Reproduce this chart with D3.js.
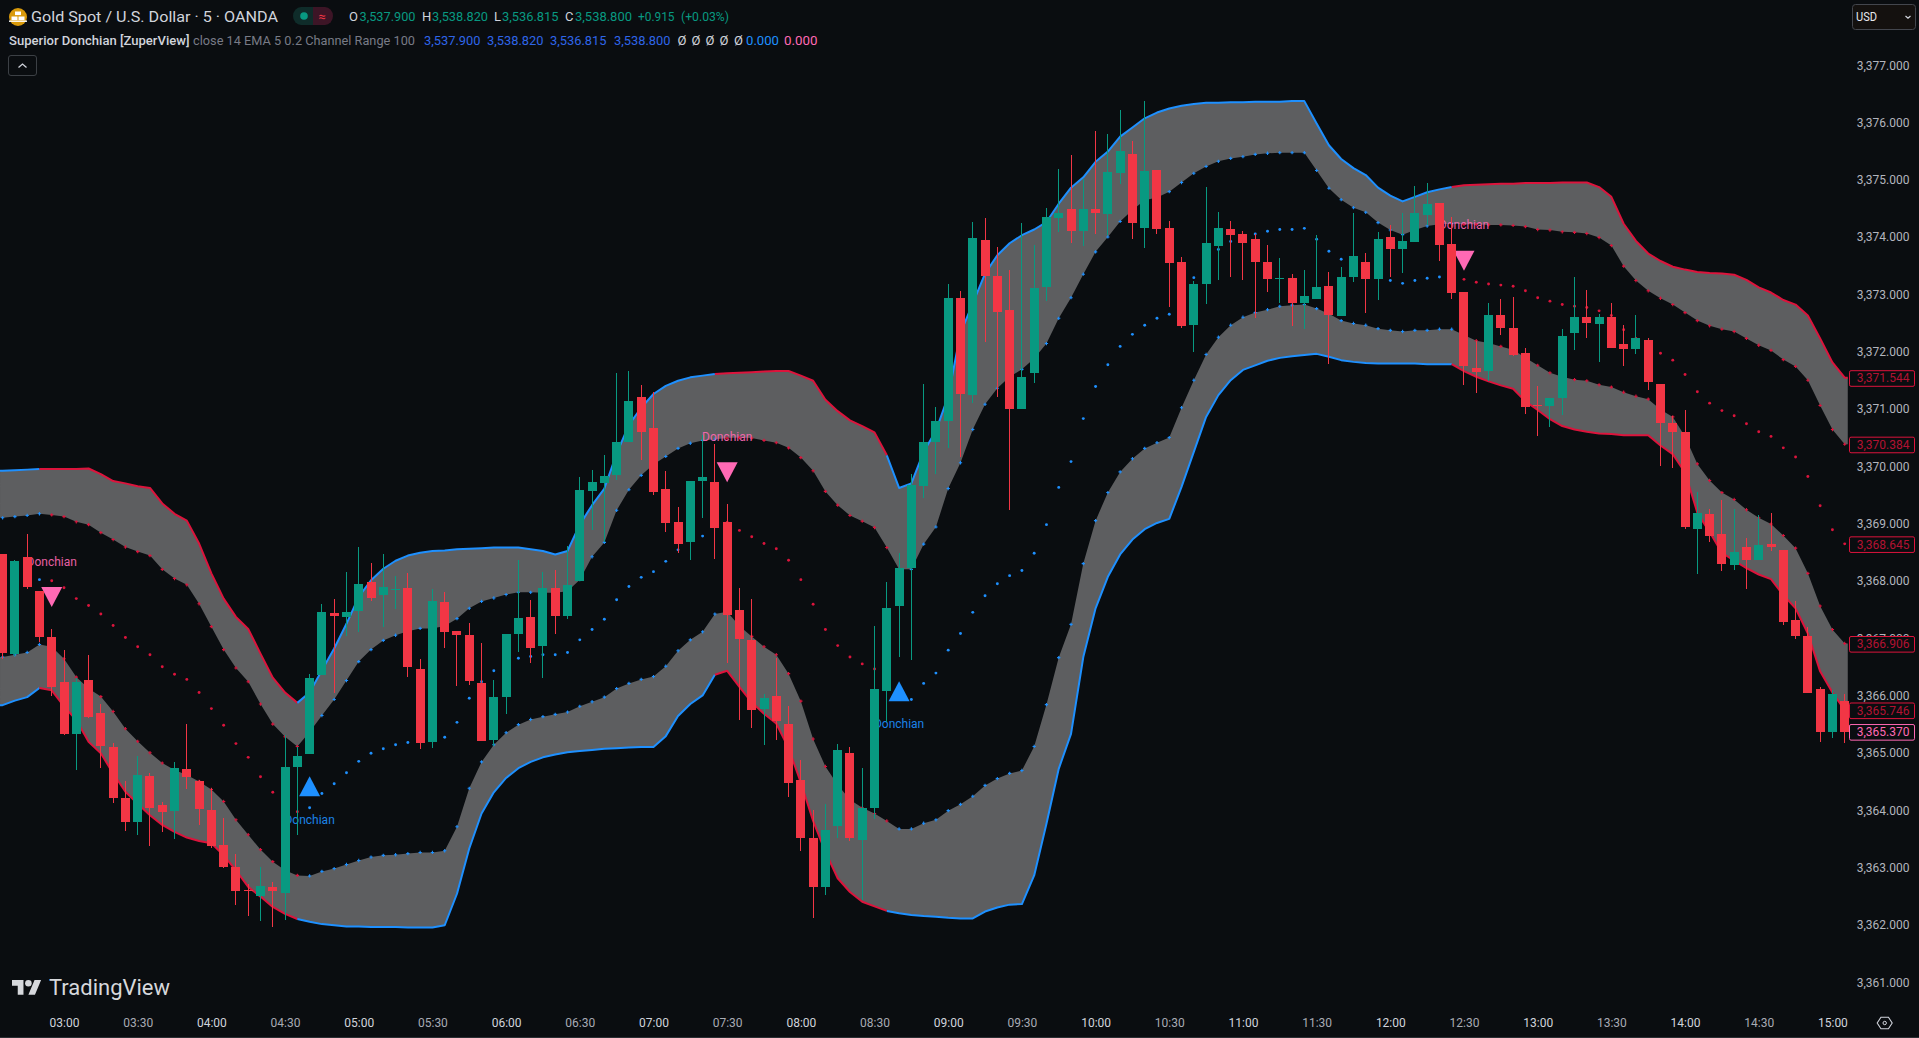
<!DOCTYPE html>
<html><head><meta charset="utf-8">
<style>html,body{margin:0;padding:0;background:#0a0d10;overflow:hidden}svg{display:block}text{font-family:Roboto,sans-serif}</style>
<script src="https://cdn.jsdelivr.net/npm/d3@7/dist/d3.min.js"></script>
</head><body><svg id="c" width="1919" height="1038"></svg>
<script>
// All prices are stored as price minus 3300.
const priceBase=3300;
const open=[68.46,66.73,68.41,67.82,67.02,66.23,65.33,66.27,65.69,65.10,
64.21,63.79,64.60,64.08,63.98,64.71,64.50,64.00,63.39,63.00,
62.60,62.50,62.65,62.55,64.75,64.98,66.35,67.44,67.37,67.47,
67.98,67.75,67.84,67.87,66.47,65.19,67.63,67.12,67.05,66.21,
65.22,65.97,67.07,67.36,66.87,67.87,67.39,68.00,69.57,69.70,
69.85,70.43,71.20,70.66,69.60,69.02,68.68,69.74,69.72,69.02,
67.49,66.96,65.76,65.99,65.50,64.52,63.52,62.66,63.72,65.00,
63.47,64.04,66.08,67.56,68.22,69.66,70.42,70.79,72.93,71.24,
73.94,73.32,72.72,71.00,71.62,73.12,74.33,74.49,74.10,74.49,
74.40,75.11,75.45,74.15,75.17,74.15,73.56,72.46,73.18,73.84,
74.14,74.05,73.96,73.56,73.26,73.28,72.85,72.91,73.14,72.62,
73.30,73.56,73.26,74.00,73.79,73.91,74.38,74.59,73.88,73.04,
71.71,71.66,72.63,72.41,71.97,71.07,71.05,71.19,72.32,72.60,
72.48,72.60,72.13,72.04,72.21,71.44,70.75,70.59,68.91,69.16,
68.81,68.27,68.59,68.37,68.65,68.53,67.31,67.03,66.12,65.36,65.91];
const high=[68.46,68.36,68.81,67.82,67.16,66.79,66.30,66.70,65.85,65.17,
64.50,64.94,64.64,64.14,64.83,65.50,64.52,64.38,63.86,63.24,
62.71,63.00,62.74,65.31,65.10,66.37,67.59,67.68,68.15,68.59,
68.31,68.46,68.08,68.13,66.63,67.85,67.80,67.12,67.26,66.92,
66.27,67.07,68.36,67.66,68.15,68.18,68.60,69.82,69.93,70.19,
71.62,71.66,71.41,71.30,69.91,69.29,69.74,70.55,70.38,69.34,
67.87,67.68,66.03,66.65,65.81,64.87,64.00,64.10,65.16,65.10,
64.74,67.21,67.98,68.49,69.87,71.43,71.03,73.18,73.05,74.26,
74.33,73.82,73.42,74.24,73.86,74.50,75.18,75.43,75.01,75.85,
75.79,76.21,75.67,76.37,75.17,74.28,73.65,73.23,74.87,74.43,
74.28,74.10,74.05,73.86,73.63,73.35,73.42,74.03,73.39,73.47,
74.42,73.72,74.08,74.21,74.42,74.89,74.94,74.59,74.34,73.04,
72.19,72.84,72.92,72.95,72.06,71.40,71.19,72.39,73.30,73.07,
72.66,72.84,72.46,72.63,72.24,71.44,70.87,70.98,69.55,69.25,
69.41,69.25,68.74,69.14,69.18,68.53,67.64,67.20,66.15,66.10,66.02];
const low=[66.63,66.68,67.85,66.93,65.99,65.31,64.70,65.61,64.73,64.13,
63.64,63.56,63.37,63.62,63.50,64.37,63.74,63.34,62.99,62.34,
62.15,62.06,61.96,62.08,63.56,64.98,66.35,66.04,67.04,67.11,
67.64,67.20,67.51,66.32,65.07,65.08,66.83,66.16,66.18,65.20,
65.12,65.68,66.75,66.56,66.30,67.08,67.33,68.00,68.89,68.68,
69.76,70.43,70.11,69.50,68.85,68.48,68.36,69.09,68.38,66.57,
65.57,65.44,65.14,65.22,64.23,63.29,62.12,62.52,63.52,63.46,
62.43,63.84,65.53,66.67,66.62,69.45,69.87,70.32,70.16,71.11,
72.17,71.21,69.23,71.00,71.45,72.88,74.08,73.89,73.84,74.05,
74.03,74.92,73.96,73.80,74.05,72.78,72.41,71.99,72.83,73.25,
73.30,73.25,72.58,73.04,72.85,72.44,72.39,72.91,71.78,72.62,
73.21,72.67,72.90,73.30,73.37,73.91,74.21,73.58,72.92,71.41,
71.28,71.48,72.29,71.93,70.91,70.53,70.68,70.89,72.03,72.24,
71.82,72.06,71.75,71.95,71.33,70.00,69.96,68.91,68.12,68.68,
68.17,68.19,67.86,68.37,68.52,67.23,66.98,66.04,65.19,65.26,65.17];
const close=[66.74,68.34,67.89,67.02,66.15,65.33,66.24,65.62,65.12,64.21,
63.79,64.61,64.04,63.97,64.73,64.57,64.02,63.37,63.01,62.59,
62.59,62.67,62.59,64.76,64.94,66.30,67.45,67.39,67.45,67.94,
67.70,67.89,67.85,66.50,65.17,67.64,67.11,67.06,66.25,65.20,
65.97,67.07,67.35,66.83,67.87,67.39,67.92,69.58,69.72,69.83,
70.43,71.14,70.60,69.55,69.01,68.64,69.74,69.81,68.93,67.40,
66.99,65.75,65.95,65.55,64.48,63.51,62.66,63.66,65.04,63.51,
64.03,66.11,67.52,68.22,69.67,70.42,70.78,72.94,71.26,73.98,
73.32,72.69,71.00,71.55,73.11,74.35,74.42,74.10,74.49,74.42,
75.13,75.50,74.24,75.15,74.14,73.54,72.44,73.18,73.89,74.15,
74.03,73.89,73.56,73.26,73.28,72.85,72.97,73.12,72.64,73.30,
73.67,73.26,73.96,73.79,73.93,74.42,74.57,73.86,73.03,71.75,
71.65,72.63,72.41,71.94,71.03,71.05,71.19,72.27,72.60,72.49,
72.60,72.07,72.04,72.23,71.47,70.76,70.59,68.94,69.18,68.79,
68.29,68.51,68.37,68.62,68.59,67.28,67.03,66.04,65.36,66.02,65.37];
const channelTop=[69.92,69.93,69.94,69.95,69.95,69.95,69.95,69.96,69.86,69.74,
69.70,69.65,69.62,69.35,69.17,69.05,68.65,68.13,67.69,67.37,
67.16,66.73,66.31,66.05,65.87,66.05,66.44,66.82,67.25,67.72,
68.01,68.21,68.35,68.44,68.49,68.52,68.53,68.55,68.56,68.57,
68.58,68.58,68.58,68.55,68.52,68.46,68.52,68.98,69.32,69.61,
70.22,70.72,71.02,71.26,71.40,71.49,71.55,71.58,71.61,71.62,
71.63,71.64,71.65,71.66,71.66,71.58,71.49,71.16,70.96,70.80,
70.70,70.59,70.19,69.62,69.70,70.25,70.62,71.22,72.32,72.84,
73.36,73.68,73.89,74.03,74.13,74.26,74.58,74.86,75.04,75.31,
75.49,75.75,75.91,76.07,76.17,76.24,76.29,76.32,76.34,76.34,
76.35,76.35,76.36,76.36,76.36,76.37,76.37,75.98,75.60,75.36,
75.20,75.08,74.86,74.72,74.62,74.70,74.78,74.83,74.87,74.90,
74.91,74.92,74.93,74.93,74.94,74.94,74.94,74.95,74.95,74.95,
74.87,74.70,74.23,73.93,73.71,73.58,73.48,73.43,73.39,73.37,
73.36,73.34,73.25,73.12,73.03,72.90,72.82,72.63,72.23,71.81,71.544];
const channelBottom=[65.83,65.91,65.97,66.13,66.09,65.81,65.57,65.19,64.99,64.64,
64.32,64.11,63.91,63.74,63.62,63.52,63.46,63.42,63.21,62.95,
62.66,62.49,62.31,62.19,62.10,62.05,62.01,61.99,61.97,61.97,
61.96,61.96,61.96,61.95,61.95,61.95,61.99,62.54,63.33,63.94,
64.31,64.56,64.73,64.84,64.92,64.97,65.01,65.03,65.05,65.07,
65.08,65.09,65.10,65.10,65.29,65.64,65.85,66.00,66.36,66.43,
66.15,65.88,65.68,65.51,65.08,64.48,63.81,63.27,62.81,62.57,
62.40,62.32,62.24,62.20,62.17,62.15,62.14,62.12,62.11,62.11,
62.23,62.30,62.35,62.36,62.86,63.76,64.72,65.33,66.67,67.52,
68.07,68.46,68.72,68.90,69.01,69.08,69.64,70.25,70.86,71.24,
71.50,71.68,71.76,71.84,71.89,71.92,71.94,71.96,71.91,71.85,
71.82,71.80,71.79,71.79,71.79,71.79,71.78,71.78,71.78,71.66,
71.56,71.48,71.41,71.35,71.13,70.98,70.82,70.70,70.64,70.60,
70.57,70.56,70.54,70.54,70.54,70.36,70.21,69.89,69.19,68.85,
68.49,68.35,68.22,68.11,68.03,67.75,67.52,67.08,66.42,66.05,65.746];
const innerTop=[69.10,69.12,69.14,69.17,69.15,69.12,69.03,68.98,68.84,68.72,
68.59,68.51,68.44,68.20,68.04,67.93,67.60,67.20,66.80,66.48,
66.24,65.85,65.50,65.28,65.11,65.36,65.65,65.93,66.26,66.59,
66.80,66.96,67.05,67.12,67.17,67.17,67.21,67.34,67.52,67.64,
67.70,67.76,67.80,67.80,67.79,67.79,67.82,68.02,68.42,68.67,
69.23,69.59,69.84,70.03,70.17,70.31,70.40,70.45,70.47,70.49,
70.50,70.49,70.45,70.41,70.32,70.15,69.92,69.56,69.32,69.14,
69.04,68.93,68.58,68.20,68.20,68.64,68.94,69.61,70.06,70.64,
71.08,71.36,71.56,71.69,71.88,72.14,72.58,72.94,73.35,73.74,
74.00,74.27,74.47,74.64,74.69,74.79,74.95,75.11,75.23,75.32,
75.37,75.40,75.44,75.46,75.47,75.47,75.47,75.16,74.85,74.65,
74.51,74.43,74.25,74.12,74.04,74.12,74.19,74.22,74.23,74.22,
74.22,74.21,74.21,74.20,74.18,74.13,74.12,74.09,74.08,74.06,
73.99,73.85,73.49,73.24,73.06,72.93,72.82,72.68,72.54,72.45,
72.39,72.35,72.23,72.11,72.02,71.86,71.74,71.50,71.06,70.64,70.384];
const innerBottom=[66.67,66.71,66.75,66.89,66.85,66.64,66.32,66.12,65.98,65.72,
65.42,65.20,65.00,64.82,64.70,64.61,64.50,64.36,64.15,63.83,
63.57,63.31,63.10,62.95,62.86,62.85,62.93,62.98,63.05,63.12,
63.18,63.21,63.22,63.24,63.26,63.26,63.29,63.71,64.38,64.84,
65.14,65.35,65.49,65.58,65.63,65.67,65.71,65.81,65.89,65.97,
66.12,66.21,66.28,66.33,66.51,66.78,66.97,67.11,67.42,67.46,
67.21,67.03,66.85,66.71,66.38,65.90,65.24,64.76,64.44,64.18,
64.04,63.94,63.81,63.67,63.67,63.77,63.83,63.99,64.10,64.24,
64.43,64.55,64.64,64.69,65.11,65.84,66.66,67.24,68.30,69.05,
69.54,69.90,70.13,70.31,70.41,70.50,71.02,71.50,71.95,72.25,
72.46,72.60,72.68,72.73,72.79,72.81,72.82,72.75,72.66,72.54,
72.49,72.46,72.40,72.37,72.35,72.37,72.37,72.39,72.39,72.29,
72.19,72.15,72.09,72.03,71.89,71.76,71.63,71.56,71.51,71.49,
71.42,71.38,71.29,71.22,71.17,70.99,70.86,70.52,70.04,69.75,
69.54,69.42,69.24,69.10,68.99,68.79,68.57,68.13,67.56,67.15,66.906];
const midline=[67.88,67.92,67.95,68.02,68.00,67.88,67.69,67.57,67.42,67.22,
67.01,66.85,66.71,66.50,66.37,66.28,66.05,65.77,65.48,65.16,
64.92,64.58,64.31,64.12,63.97,64.04,64.29,64.46,64.65,64.85,
64.99,65.07,65.14,65.18,65.22,65.24,65.27,65.53,65.95,66.24,
66.43,66.57,66.65,66.68,66.71,66.71,66.75,66.97,67.15,67.33,
67.67,67.90,68.06,68.16,68.34,68.54,68.70,68.78,68.99,69.02,
68.88,68.77,68.65,68.56,68.36,68.02,67.59,67.15,66.87,66.67,
66.55,66.46,66.21,65.93,65.93,66.21,66.39,66.79,67.08,67.45,
67.74,67.95,68.09,68.18,68.48,68.98,69.63,70.08,70.83,71.39,
71.77,72.09,72.30,72.46,72.58,72.65,72.98,73.29,73.60,73.78,
73.92,74.00,74.05,74.10,74.13,74.13,74.15,73.96,73.75,73.61,
73.51,73.44,73.33,73.24,73.19,73.24,73.28,73.30,73.32,73.26,
73.21,73.18,73.16,73.14,73.06,72.94,72.88,72.82,72.79,72.77,
72.71,72.63,72.38,72.23,72.12,71.97,71.85,71.60,71.30,71.10,
70.97,70.88,70.74,70.60,70.52,70.32,70.16,69.82,69.31,68.89,68.645];
const bearRuns=[[4,24],[59,72],[119,150]];
const signalBar=[4,25,59,73,119];
const signalKind=["down","up","down","up","down"];
const signalPrice=[67.89,64.24,70.07,65.90,73.76];
const signalTextPrice=[68.32,63.82,70.51,65.50,74.20];
const priceTicks=[3361,3362,3363,3364,3365,3366,3367,3368,3369,3370,3371,3372,3373,3374,3375,3376,3377];
const timeTickBars=[5,11,17,23,29,35,41,47,53,59,65,71,77,83,89,95,101,107,113,119,125,131,137,143,149];
const timeTickLabels=["03:00","03:30","04:00","04:30","05:00","05:30","06:00","06:30","07:00","07:30","08:00","08:30","09:00","09:30","10:00","10:30","11:00","11:30","12:00","12:30","13:00","13:30","14:00","14:30","15:00"];
const lastLabels=[["3,371.544",71.544,"crimson"],["3,370.384",70.384,"crimson"],["3,368.645",68.645,"crimson"],["3,366.906",66.906,"crimson"],["3,365.746",65.746,"crimson"],["3,365.370",65.37,"hotpink"]];

const BG="#0a0d10",UP="#089981",DOWN="#f23645",BLUE="dodgerblue",RED="crimson",PINK="hotpink",FILL="#5d5e60";
const svg=d3.select("#c");
svg.append("rect").attr("width",1919).attr("height",1038).attr("fill",BG);
const x=d3.scaleLinear().domain([0,150]).range([2.6,1844.7]);
const y=d3.scaleLinear().domain([3361,3377]).range([982,65]);
const py=v=>y(priceBase+v);
const clampI=i=>Math.max(0,Math.min(150,Math.round(i)));
const plotIdx=[-0.21].concat(d3.range(151),[150.25]);
const isBear=i=>bearRuns.some(r=>i>=r[0]&&i<=r[1]);
const g=svg.append("g");

// channel fills
[[channelTop,innerTop],[innerBottom,channelBottom]].forEach(([a,b])=>{
  g.append("path").attr("fill",FILL).attr("d",d3.area().x(i=>x(i)).y0(i=>py(a[clampI(i)])).y1(i=>py(b[clampI(i)]))(plotIdx));
});
// outer lines, coloured by trend
[channelTop,channelBottom].forEach(a=>{
  const line=d3.line().x(i=>x(i)).y(i=>py(a[clampI(i)]));
  let runs=[],cur=[plotIdx[0],0],st=isBear(1);
  for(let i=1;i<=150;i++){
    if(isBear(i)!==st){runs.push([cur,st]);cur=[i-1];st=isBear(i);}
    cur.push(i);
  }
  cur.push(150.25);runs.push([cur,st]);
  runs.forEach(([pts,b])=>g.append("path").attr("fill","none").attr("stroke",b?RED:BLUE).attr("stroke-width",2).attr("stroke-linejoin","round").attr("d",line(pts)));
});
// inner crosses and midline dots
const cross=d3.symbol().type(d3.symbolCross).size(6)();
[innerTop,innerBottom].forEach(a=>{
  g.selectAll(null).data(d3.range(151)).join("path").attr("d",cross)
   .attr("transform",i=>`translate(${x(i)},${py(a[i])})`).attr("fill",i=>isBear(i)?RED:BLUE);
});
g.selectAll(null).data(d3.range(151)).join("circle").attr("cx",i=>x(i)).attr("cy",i=>py(midline[i])).attr("r",1.45)
 .attr("fill",i=>isBear(i)?RED:BLUE);

// signals
signalBar.forEach((b,k)=>{
  const dn=signalKind[k]==="down",c=dn?PINK:BLUE,cx=x(b),cy=py(signalPrice[k]);
  g.append("path").attr("fill",c).attr("d",d3.line()(dn?[[cx-10.5,cy],[cx+10.5,cy],[cx,cy+20]]:[[cx-10.5,cy],[cx+10.5,cy],[cx,cy-20]])+"Z");
  g.append("text").attr("x",cx).attr("y",py(signalTextPrice[k])).attr("text-anchor","middle").attr("dominant-baseline","central")
   .attr("font-size",12).attr("fill",c).attr("opacity",.9).text("Donchian");
});

// candles
const cg=svg.append("g").attr("shape-rendering","crispEdges");
const bars=d3.range(151);
const col=i=>close[i]>=open[i]?UP:DOWN;
cg.selectAll(null).data(bars).join("rect").attr("x",i=>Math.round(x(i)-0.5)).attr("width",1)
  .attr("y",i=>py(high[i])).attr("height",i=>py(low[i])-py(high[i])).attr("fill",col);
cg.selectAll(null).data(bars).join("rect").attr("x",i=>Math.round(x(i)-4.5)).attr("width",9)
  .attr("y",i=>py(Math.max(open[i],close[i]))).attr("height",i=>Math.max(1,Math.abs(py(open[i])-py(close[i])))).attr("fill",col);

// price axis
const ax=svg.append("g").attr("transform","translate(1848,0)").call(d3.axisRight(y).tickValues(priceTicks).tickSize(0).tickFormat(d3.format(",.3f")));
ax.select(".domain").remove();
ax.selectAll("text").attr("x",61.5).attr("text-anchor","end").attr("dy",null).attr("dominant-baseline","central").attr("fill","#b2b5be").attr("font-size",12).attr("font-family","Roboto");
// last value boxes
lastLabels.forEach(([t,v,c])=>{
  const yy=py(v)+0.8;
  svg.append("rect").attr("x",1849.5).attr("y",yy-7.8).attr("width",65).attr("height",15.6).attr("rx",1.5).attr("fill",BG).attr("stroke",c).attr("stroke-width",1);
  svg.append("text").attr("x",1909.5).attr("y",yy).attr("text-anchor","end").attr("dominant-baseline","central").attr("font-size",12).attr("fill",c).attr("opacity",c===PINK?1:.8).text(t);
});
// time axis
const tAx=svg.append("g").attr("transform","translate(0,1022.5)").call(d3.axisBottom(x).tickValues(timeTickBars).tickSize(0).tickFormat((d,i)=>timeTickLabels[i]));
tAx.select(".domain").remove();
tAx.selectAll("text").attr("y",0).attr("dy",null).attr("dominant-baseline","central").attr("font-size",12).attr("font-family","Roboto")
  .attr("font-weight",400).attr("fill",(d,i)=>i%2==0?"#d1d4dc":"#a8abb4");
svg.append("rect").attr("x",0).attr("y",1037).attr("width",1919).attr("height",1).attr("fill","#2a2e33");

function T(px,py_,s,c,size,len,w){
  const t=svg.append("text").attr("x",px).attr("y",py_).attr("dominant-baseline","central").attr("font-size",size).attr("fill",c).text(s);
  if(len)t.attr("textLength",len).attr("lengthAdjust","spacingAndGlyphs");
  if(w)t.attr("font-weight",w);
  return t;
}
// header
svg.append("circle").attr("cx",18).attr("cy",17).attr("r",9).attr("fill","#d99a0b");
[[15,11.5,6],[11.5,16.5,6],[18.5,16.5,6]].forEach(([a,b,w])=>svg.append("rect").attr("x",a).attr("y",b).attr("width",w).attr("height",3.6).attr("fill","#fff"));
svg.append("rect").attr("x",9).attr("y",20.5).attr("width",18).attr("height",1.4).attr("fill","#fff");
T(31,16.8,"Gold Spot / U.S. Dollar · 5 · OANDA","#d1d4dc",15,247);
svg.append("path").attr("fill","#0f2c2a").attr("d","M313,7H301a8,9 0 0 0 -8,9v0a8,9 0 0 0 8,9H313Z");
svg.append("path").attr("fill","#3d1526").attr("d","M313,7H325a8,9 0 0 1 8,9v0a8,9 0 0 1 -8,9H313Z");
svg.append("circle").attr("cx",304).attr("cy",16).attr("r",3.8).attr("fill",UP);
T(322,16,"≈",DOWN,13).attr("text-anchor","middle");
T(349,16.8,"O","#d1d4dc",13);T(359.5,16.8,"3,537.900",UP,13,56);
T(422,16.8,"H","#d1d4dc",13);T(432,16.8,"3,538.820",UP,13,56);
T(494,16.8,"L","#d1d4dc",13);T(502,16.8,"3,536.815",UP,13,56.5);
T(565,16.8,"C","#d1d4dc",13);T(575,16.8,"3,538.800",UP,13,57);
T(638,16.8,"+0.915",UP,13,36.5);T(681,16.8,"(+0.03%)",UP,13,48);
T(9,40,"Superior Donchian [ZuperView]","#d1d4dc",13,180.5,500);
T(193,40,"close 14 EMA 5 0.2 Channel Range 100","#787b86",13,222);
[[424,"3,537.900"],[487,"3,538.820"],[550,"3,536.815"],[614,"3,538.800"]].forEach(([a,s])=>T(a,40,s,"#2f66e8",13,56.5));
[677.5,691.5,705.5,719.5,734].forEach(a=>T(a,40,"Ø","#d1d4dc",13));
T(746,40,"0.000",BLUE,13,33);T(784,40,"0.000",PINK,13,33.5);
svg.append("rect").attr("x",8.5).attr("y",55.5).attr("width",28).attr("height",20).attr("rx",2.5).attr("fill","none").attr("stroke","#3c4045");
svg.append("path").attr("d","M18.5,67.5l4,-3.5l4,3.5").attr("fill","none").attr("stroke","#d1d4dc").attr("stroke-width",1.3);
// currency button
svg.append("rect").attr("x",1852.5).attr("y",4.5).attr("width",63).attr("height",25).attr("rx",3).attr("fill","#14110f").attr("stroke","#43464d");
T(1856,17,"USD","#e6e8ee",12,21);
svg.append("path").attr("d","M1905.5,16l2.5,2.2l2.5,-2.2").attr("fill","none").attr("stroke","#d1d4dc").attr("stroke-width",1.2);
// logo
svg.append("g").attr("transform","translate(12,976.7) scale(.82)").attr("fill","#d6d8dc").call(s=>{
  s.append("path").attr("d","M14 22H7V11H0V4h14v18zM28 22h-8l7.5-18h8L28 22z");
  s.append("circle").attr("cx",20).attr("cy",8).attr("r",4);
});
svg.append("text").attr("x",49).attr("y",995).attr("font-family","Lato").attr("font-weight",400).attr("font-size",21.5).attr("fill","#d6d8dc").attr("textLength",121).attr("lengthAdjust","spacingAndGlyphs").text("TradingView");
// settings
const hex=d3.range(6).map(k=>[1884.7+7.5*Math.cos(k*Math.PI/3),1023+6.6*Math.sin(k*Math.PI/3)]);
svg.append("path").attr("d",d3.line()(hex)+"Z").attr("fill","none").attr("stroke","#d1d4dc").attr("stroke-width",1.1);
svg.append("circle").attr("cx",1884.7).attr("cy",1023).attr("r",1.7).attr("fill","none").attr("stroke","#d1d4dc");
</script></body></html>
